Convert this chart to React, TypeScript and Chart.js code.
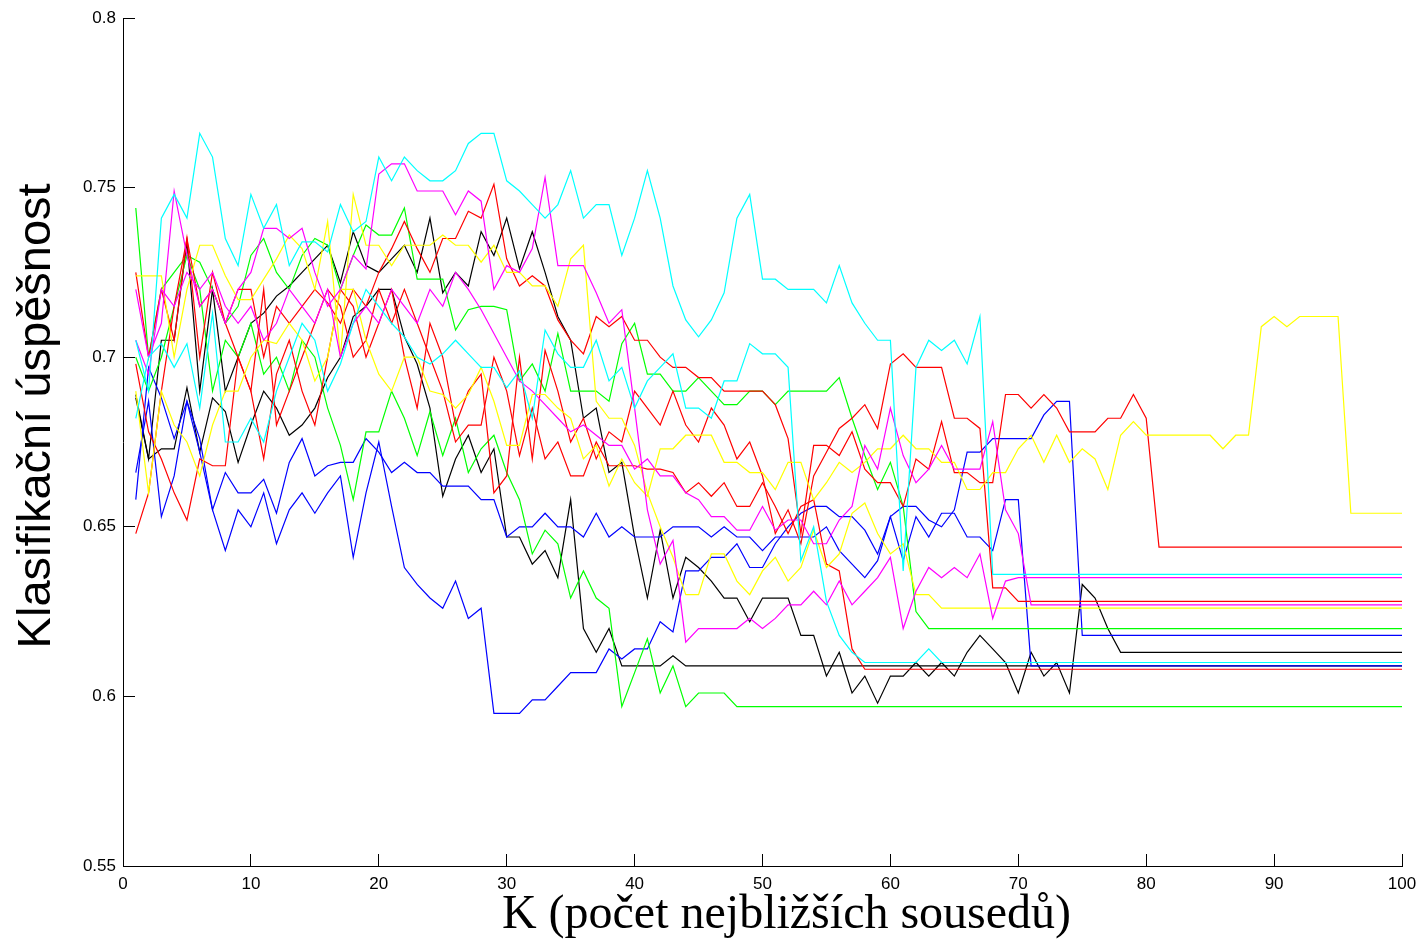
import React, { useEffect, useRef } from "react";
import { Chart, registerables } from "chart.js";

Chart.register(...registerables);

// Axis ticks
const X_TICKS = [0, 10, 20, 30, 40, 50, 60, 70, 80, 90, 100];
const Y_TICKS = [0.55, 0.6, 0.65, 0.7, 0.75, 0.8];
const X_MAX = 100;

// Classification accuracy for K = 1, 2, ...; the last value stays constant up to K = 100
const cyanA = [
  0.705, 0.69, 0.741, 0.748, 0.741, 0.766, 0.759, 0.735, 0.727, 0.748,
  0.738, 0.745, 0.727, 0.734, 0.734, 0.731, 0.745, 0.737, 0.74, 0.759,
  0.752, 0.759, 0.755, 0.752, 0.752, 0.755, 0.763, 0.766, 0.766, 0.752,
  0.749, 0.745, 0.741, 0.745, 0.755, 0.741, 0.745, 0.745, 0.73, 0.741,
  0.755, 0.741, 0.721, 0.711, 0.706, 0.711, 0.719, 0.741, 0.748, 0.723,
  0.723, 0.72, 0.72, 0.72, 0.716, 0.727, 0.716, 0.71, 0.705, 0.705,
  0.637, 0.697, 0.705, 0.702, 0.705, 0.698, 0.712, 0.636,
];
const cyanB = [
  0.682, 0.7, 0.704, 0.697, 0.704, 0.685, 0.713, 0.675, 0.675, 0.682,
  0.675, 0.69, 0.7, 0.71, 0.705, 0.69, 0.698, 0.71, 0.72, 0.715,
  0.71, 0.706, 0.7, 0.698, 0.701, 0.705, 0.701, 0.697, 0.697, 0.691,
  0.696, 0.682, 0.708, 0.701, 0.697, 0.697, 0.705, 0.693, 0.697, 0.685,
  0.693, 0.697, 0.701, 0.685, 0.685, 0.682, 0.693, 0.693, 0.704, 0.701,
  0.701, 0.697, 0.64, 0.65, 0.628, 0.618, 0.613, 0.61, 0.61, 0.61,
  0.61, 0.61, 0.614, 0.61,
];
const magentaA = [
  0.72, 0.7, 0.71, 0.749, 0.73, 0.715, 0.72, 0.71, 0.72, 0.725,
  0.738, 0.738, 0.735, 0.738, 0.725, 0.715, 0.72, 0.73, 0.726, 0.754,
  0.757, 0.757, 0.749, 0.749, 0.749, 0.742, 0.749, 0.746, 0.72, 0.727,
  0.725, 0.732, 0.753, 0.727, 0.727, 0.727, 0.719, 0.71, 0.714, 0.685,
  0.655, 0.639, 0.646, 0.616, 0.62, 0.62, 0.62, 0.62, 0.623, 0.62,
  0.623, 0.627, 0.627, 0.631, 0.627, 0.634, 0.627, 0.631, 0.635, 0.641,
  0.62, 0.631, 0.638, 0.635, 0.638, 0.635, 0.642, 0.623, 0.634, 0.635,
];
const magentaB = [
  0.705, 0.695, 0.72, 0.715, 0.725, 0.72, 0.725, 0.715, 0.71, 0.715,
  0.705, 0.71, 0.72, 0.715, 0.71, 0.72, 0.7, 0.71, 0.715, 0.71,
  0.72, 0.715, 0.71, 0.72, 0.715, 0.725, 0.72, 0.714, 0.707, 0.7,
  0.693, 0.69, 0.686, 0.682, 0.678, 0.68, 0.677, 0.674, 0.674, 0.667,
  0.67, 0.665, 0.665, 0.66, 0.658, 0.653, 0.653, 0.649, 0.649, 0.656,
  0.649, 0.652, 0.652, 0.645, 0.645, 0.652, 0.656, 0.674, 0.667, 0.685,
  0.671, 0.663, 0.667, 0.674, 0.667, 0.667, 0.667, 0.681, 0.655, 0.648,
  0.627,
];
const yellowA = [
  0.69, 0.66, 0.69, 0.68, 0.675, 0.665, 0.68, 0.69, 0.69, 0.7,
  0.705, 0.704, 0.71, 0.705, 0.693, 0.7, 0.72, 0.72, 0.705, 0.695,
  0.69, 0.7, 0.7, 0.69, 0.689, 0.685, 0.689, 0.697, 0.687, 0.674,
  0.674, 0.689, 0.689, 0.685, 0.682, 0.67, 0.674, 0.662, 0.67, 0.663,
  0.659, 0.673, 0.673, 0.677, 0.677, 0.677, 0.669, 0.669, 0.666, 0.666,
  0.661, 0.669, 0.669, 0.658, 0.663, 0.669, 0.666, 0.669, 0.673, 0.673,
  0.677, 0.673, 0.673, 0.669, 0.669, 0.661, 0.661, 0.666, 0.666, 0.673,
  0.677, 0.669, 0.677, 0.669, 0.673, 0.67, 0.661, 0.677, 0.681, 0.677,
  0.677, 0.677, 0.677, 0.677, 0.677, 0.673, 0.677, 0.677, 0.709, 0.712,
  0.709, 0.712, 0.712, 0.712, 0.712, 0.654,
];
const yellowB = [
  0.724, 0.724, 0.724, 0.7, 0.72, 0.733, 0.733, 0.724, 0.717, 0.717,
  0.723, 0.729, 0.736, 0.732, 0.72, 0.74, 0.7, 0.748, 0.733, 0.733,
  0.727, 0.733, 0.733, 0.733, 0.736, 0.733, 0.733, 0.728, 0.733, 0.725,
  0.725, 0.721, 0.721, 0.715, 0.729, 0.733, 0.687, 0.682, 0.682, 0.674,
  0.66, 0.65, 0.641, 0.63, 0.63, 0.642, 0.642, 0.634, 0.63, 0.637,
  0.641, 0.634, 0.638, 0.649, 0.638, 0.642, 0.654, 0.657, 0.648, 0.642,
  0.645, 0.63, 0.63, 0.626,
];
const redA = [
  0.725, 0.7, 0.72, 0.705, 0.735, 0.7, 0.725, 0.71, 0.72, 0.72,
  0.7, 0.715, 0.71, 0.715, 0.72, 0.716, 0.71, 0.72, 0.715, 0.725,
  0.732, 0.74, 0.732, 0.725, 0.735, 0.735, 0.743, 0.741, 0.751, 0.729,
  0.721, 0.724, 0.721, 0.711, 0.705, 0.701, 0.712, 0.709, 0.712, 0.705,
  0.705, 0.7, 0.697, 0.697, 0.694, 0.694, 0.69, 0.69, 0.69, 0.69,
  0.686, 0.676, 0.648, 0.674, 0.674, 0.671, 0.678, 0.667, 0.663, 0.663,
  0.656, 0.67, 0.667, 0.681, 0.666, 0.666, 0.663, 0.663, 0.689, 0.689,
  0.685, 0.689, 0.685, 0.678, 0.678, 0.678, 0.682, 0.682, 0.689, 0.682,
  0.644,
];
const redB = [
  0.698, 0.678, 0.67, 0.66, 0.652, 0.67, 0.668, 0.668, 0.7, 0.69,
  0.67, 0.695, 0.705, 0.69, 0.68, 0.7, 0.72, 0.715, 0.7, 0.71,
  0.72, 0.7, 0.685, 0.71, 0.7, 0.68, 0.69, 0.695, 0.66, 0.665,
  0.7, 0.67, 0.702, 0.69, 0.675, 0.682, 0.67, 0.678, 0.675, 0.69,
  0.685, 0.68, 0.69, 0.68, 0.675, 0.685, 0.68, 0.67, 0.675, 0.665,
  0.648, 0.655, 0.645, 0.665, 0.672, 0.679, 0.682, 0.686, 0.679, 0.698,
  0.701, 0.697, 0.697, 0.697, 0.682, 0.682, 0.679, 0.632, 0.632, 0.628,
];
const redC = [
  0.648, 0.66, 0.69, 0.715, 0.735, 0.715, 0.72, 0.71, 0.7, 0.69,
  0.72, 0.68, 0.69, 0.7, 0.71, 0.72, 0.715, 0.7, 0.705, 0.72,
  0.71, 0.72, 0.71, 0.7, 0.69, 0.675, 0.68, 0.68, 0.7, 0.69,
  0.671, 0.685, 0.67, 0.675, 0.665, 0.665, 0.675, 0.668, 0.668, 0.668,
  0.667, 0.667, 0.666, 0.66, 0.663, 0.659, 0.663, 0.656, 0.656, 0.663,
  0.656, 0.648, 0.656, 0.658, 0.639, 0.637, 0.614, 0.608,
];
const greenA = [
  0.744, 0.7, 0.72, 0.725, 0.73, 0.728, 0.72, 0.71, 0.715, 0.73,
  0.735, 0.725, 0.72, 0.73, 0.735, 0.733, 0.72, 0.73, 0.739, 0.736,
  0.736, 0.744, 0.723, 0.723, 0.723, 0.708, 0.714, 0.715, 0.715, 0.714,
  0.693, 0.698, 0.69, 0.707, 0.69, 0.69, 0.69, 0.687, 0.704, 0.71,
  0.695, 0.695, 0.69, 0.69, 0.694, 0.69, 0.686, 0.686, 0.69, 0.69,
  0.686, 0.69, 0.69, 0.69, 0.69, 0.694, 0.682, 0.671, 0.661, 0.669,
  0.656, 0.625, 0.62,
];
const greenB = [
  0.7, 0.69, 0.7, 0.715, 0.73, 0.72, 0.69, 0.705, 0.7, 0.71,
  0.695, 0.7, 0.69, 0.705, 0.7, 0.685, 0.674, 0.658, 0.678, 0.678,
  0.69, 0.682, 0.671, 0.684, 0.671, 0.682, 0.666, 0.673, 0.677, 0.666,
  0.658, 0.642, 0.649, 0.645, 0.629, 0.637, 0.629, 0.626, 0.597, 0.607,
  0.617, 0.601, 0.609, 0.597, 0.601, 0.601, 0.601, 0.597,
];
const blueA = [
  0.658, 0.697, 0.688, 0.676, 0.687, 0.676, 0.655, 0.643, 0.655, 0.65,
  0.66, 0.645, 0.655, 0.66, 0.654, 0.66, 0.665, 0.641, 0.66, 0.675,
  0.656, 0.638, 0.633, 0.629, 0.626, 0.634, 0.623, 0.626, 0.595, 0.595,
  0.595, 0.599, 0.599, 0.603, 0.607, 0.607, 0.607, 0.614, 0.611, 0.614,
  0.614, 0.622, 0.619, 0.637, 0.637, 0.641, 0.641, 0.645, 0.638, 0.638,
  0.645, 0.65, 0.654, 0.656, 0.656, 0.653, 0.653, 0.649, 0.642, 0.653,
  0.656, 0.656, 0.652, 0.65, 0.655, 0.672, 0.672, 0.676, 0.676, 0.676,
  0.676, 0.683, 0.687, 0.687, 0.618,
];
const blueB = [
  0.666, 0.687, 0.653, 0.665, 0.687, 0.672, 0.655, 0.666, 0.66, 0.66,
  0.664, 0.654, 0.669, 0.676, 0.665, 0.668, 0.669, 0.669, 0.676, 0.672,
  0.666, 0.669, 0.666, 0.666, 0.662, 0.662, 0.662, 0.658, 0.658, 0.647,
  0.65, 0.65, 0.654, 0.65, 0.65, 0.647, 0.654, 0.647, 0.65, 0.647,
  0.647, 0.647, 0.65, 0.65, 0.65, 0.647, 0.65, 0.647, 0.647, 0.643,
  0.647, 0.647, 0.647, 0.647, 0.65, 0.643, 0.639, 0.635, 0.64, 0.653,
  0.64, 0.653, 0.647, 0.654, 0.654, 0.647, 0.647, 0.643, 0.658, 0.658,
  0.609,
];
const blackA = [
  0.688, 0.67, 0.705, 0.705, 0.734, 0.69, 0.72, 0.69, 0.7, 0.71,
  0.713, 0.718, 0.721, 0.725, 0.729, 0.733, 0.722, 0.737, 0.727, 0.725,
  0.729, 0.733, 0.725, 0.741, 0.719, 0.725, 0.721, 0.737, 0.73, 0.741,
  0.726, 0.737, 0.725, 0.712, 0.705, 0.682, 0.685, 0.666, 0.669, 0.647,
  0.629, 0.649, 0.629, 0.641, 0.638, 0.634, 0.629, 0.629, 0.622, 0.629,
  0.629, 0.629, 0.618, 0.618, 0.606, 0.613, 0.601, 0.606, 0.598, 0.606,
  0.606, 0.61, 0.606, 0.61, 0.606, 0.613, 0.618, 0.614, 0.61, 0.601,
  0.613, 0.606, 0.61, 0.601, 0.633, 0.629, 0.62, 0.613,
];
const blackB = [
  0.689, 0.67, 0.673, 0.673, 0.691, 0.672, 0.688, 0.684, 0.669, 0.68,
  0.69, 0.685, 0.677, 0.68, 0.685, 0.694, 0.7, 0.712, 0.715, 0.72,
  0.72, 0.706, 0.698, 0.685, 0.659, 0.67, 0.677, 0.666, 0.673, 0.647,
  0.647, 0.639, 0.643, 0.635, 0.658, 0.62, 0.613, 0.62, 0.609, 0.609,
  0.609, 0.609, 0.612, 0.609,
];

const SERIES = [cyanA, cyanB, magentaA, magentaB, yellowA, yellowB, redA, redB, redC, greenA, greenB, blueA, blueB, blackA, blackB];
const COLORS = [
  "#00ffff", "#00ffff", "#ff00ff", "#ff00ff", "#ffff00", "#ffff00",
  "#ff0000", "#ff0000", "#ff0000", "#00ff00", "#00ff00",
  "#0000ff", "#0000ff", "#000000", "#000000",
];

const X_TITLE = "K (počet nejbližších sousedů)";
const Y_TITLE = "Klasifikační úspěšnost";

export default function App() {
  const ref = useRef<HTMLCanvasElement>(null);

  useEffect(() => {
    const canvas = ref.current;
    if (!canvas) return;
    const datasets = SERIES.map((vals, i) => {
      const pts = vals.map((v, k) => ({ x: k + 1, y: v }));
      pts.push({ x: X_MAX, y: vals[vals.length - 1] });
      return {
        data: pts,
        borderColor: COLORS[i],
        backgroundColor: COLORS[i],
        borderWidth: 1.2,
        pointRadius: 0,
        tension: 0,
        fill: false,
      };
    });
    const tickFont = { family: "Liberation Sans", size: 17 };
    const chart = new Chart(canvas, {
      type: "line",
      data: { datasets },
      options: {
        animation: false,
        responsive: false,
        devicePixelRatio: 1,
        layout: { padding: { top: 18, right: 14, left: 0, bottom: 0 } },
        plugins: { legend: { display: false }, tooltip: { enabled: false } },
        scales: {
          x: {
            type: "linear",
            min: 0,
            max: X_MAX,
            afterBuildTicks: (s: any) => {
              s.ticks = X_TICKS.map((v) => ({ value: v }));
            },
            afterFit: (s: any) => {
              s.height = 76;
              s.paddingLeft = 0;
              s.paddingRight = 0;
            },
            ticks: {
              autoSkip: false,
              maxRotation: 0,
              padding: 20,
              color: "#000",
              font: tickFont,
              callback: (v: any) => String(v),
            },
            grid: { drawOnChartArea: false, drawTicks: true, tickLength: -12, color: "#000", lineWidth: 1 },
            border: { display: true, color: "#000", width: 1 },
            title: {
              display: true,
              text: "    " + X_TITLE,
              color: "#000",
              font: { family: "Liberation Serif", size: 48 },
              padding: { top: 0, bottom: -2 },
            },
          },
          y: {
            type: "linear",
            min: 0.55,
            max: 0.8,
            afterBuildTicks: (s: any) => {
              s.ticks = Y_TICKS.map((v) => ({ value: v }));
            },
            afterFit: (s: any) => {
              s.width = 123;
              s.paddingTop = 0;
              s.paddingBottom = 0;
            },
            ticks: {
              autoSkip: false,
              padding: 19,
              color: "#000",
              font: tickFont,
              callback: (v: any) => String(Number(Number(v).toFixed(2))),
            },
            grid: { drawOnChartArea: false, drawTicks: true, tickLength: -12, color: "#000", lineWidth: 1 },
            border: { display: true, color: "#000", width: 1 },
            title: {
              display: true,
              text: "    " + Y_TITLE,
              color: "#000",
              font: { family: "Liberation Sans", size: 47 },
              padding: { top: 9, bottom: 0 },
            },
          },
        },
      },
    } as any);
    return () => chart.destroy();
  }, []);

  return (
    <div style={{ position: "absolute", left: 0, top: 0, width: 1416, height: 942, background: "#fff" }}>
      <canvas ref={ref} width={1416} height={942} style={{ width: 1416, height: 942, display: "block" }} />
    </div>
  );
}
